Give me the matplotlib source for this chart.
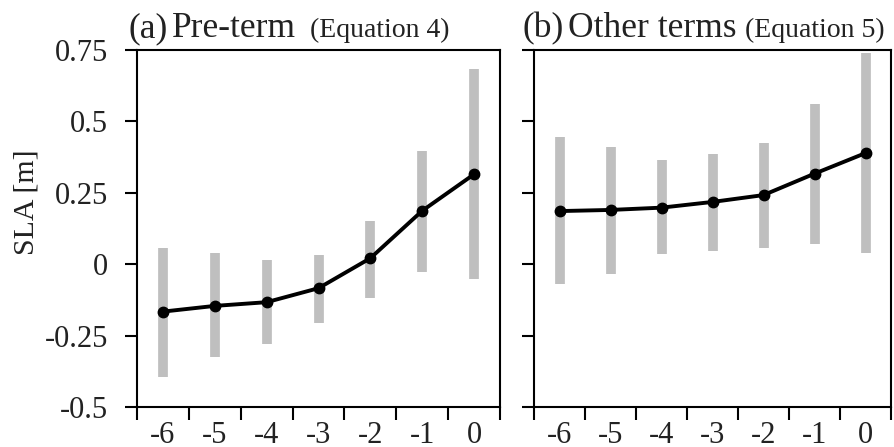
import numpy as np
import matplotlib.pyplot as plt
from matplotlib.ticker import FixedLocator, NullFormatter, FixedFormatter

plt.rcParams['font.family'] = ['Liberation Serif', 'DejaVu Serif']

# lead time categories
months = ["-6", "-5", "-4", "-3", "-2", "-1", "0"]

# (a) pre-term, mean and range
pre_mean = [-0.166, -0.146, -0.133, -0.084, 0.021, 0.187, 0.315]
pre_low = [-0.394, -0.326, -0.278, -0.205, -0.117, -0.027, -0.053]
pre_high = [0.056, 0.038, 0.015, 0.031, 0.152, 0.398, 0.683]

# (b) other terms
oth_mean = [0.186, 0.190, 0.198, 0.218, 0.242, 0.317, 0.389]
oth_low = [-0.068, -0.034, 0.035, 0.045, 0.057, 0.070, 0.040]
oth_high = [0.445, 0.410, 0.364, 0.385, 0.423, 0.561, 0.738]

yticks = [-0.5, -0.25, 0, 0.25, 0.5, 0.75]
ytick_labels = ["-0.5", "-0.25", "0", "0.25", "0.5", "0.75"]

fig = plt.figure(figsize=(8.94, 4.47), dpi=100)
ax1 = fig.add_axes([137/894, 40/447, 363/894, 357/447])
ax2 = fig.add_axes([534/894, 40/447, 357/894, 357/447])

x = np.arange(len(months))

def draw_panel(ax, mean, low, high):
    ax.vlines(x, low, high, color="#bfbfbf", lw=7, zorder=1)
    ax.plot(x, mean, color="black", lw=2.8, marker="o", ms=7.5, zorder=3)
    ax.set_xlim(-0.5, len(months) - 0.5)
    ax.set_ylim(-0.5, 0.75)
    # ticks at the category borders, labels in the middle
    ax.xaxis.set_major_locator(FixedLocator(np.arange(-0.5, len(months), 1.0)))
    ax.xaxis.set_major_formatter(NullFormatter())
    ax.xaxis.set_minor_locator(FixedLocator(x))
    ax.xaxis.set_minor_formatter(FixedFormatter(months))
    ax.tick_params(axis="x", which="major", length=9, width=1.5, direction="out")
    ax.tick_params(axis="x", which="minor", length=0, labelsize=22, pad=10,
                   labelcolor="#222222")
    ax.yaxis.set_major_locator(FixedLocator(yticks))
    ax.tick_params(axis="y", length=9, width=1.5, direction="out", labelsize=22,
                   pad=12, labelcolor="#222222")
    for s in ax.spines.values():
        s.set_linewidth(1.5)

draw_panel(ax1, pre_mean, pre_low, pre_high)
draw_panel(ax2, oth_mean, oth_low, oth_high)

ax1.set_yticklabels(ytick_labels)
ax2.set_yticklabels([])
fig.text(26/894, 1 - 202/447, "SLA [m]", fontsize=21.5, color="#222222",
         rotation=90, ha="center", va="center")

# titles in three pieces of different sizes
fig.text(128/894, 1 - 37/447, "(a)", fontsize=25.5, color="#222222", va="baseline")
fig.text(172/894, 1 - 37/447, "Pre-term", fontsize=25.5, color="#222222", va="baseline")
fig.text(310/894, 1 - 37/447, "(Equation 4)", fontsize=20, color="#222222", va="baseline")
fig.text(523/894, 1 - 37/447, "(b)", fontsize=25.5, color="#222222", va="baseline")
fig.text(568/894, 1 - 37/447, "Other terms", fontsize=25.5, color="#222222", va="baseline")
fig.text(745/894, 1 - 37/447, "(Equation 5)", fontsize=20, color="#222222", va="baseline")

fig.savefig("out.png", dpi=100)
